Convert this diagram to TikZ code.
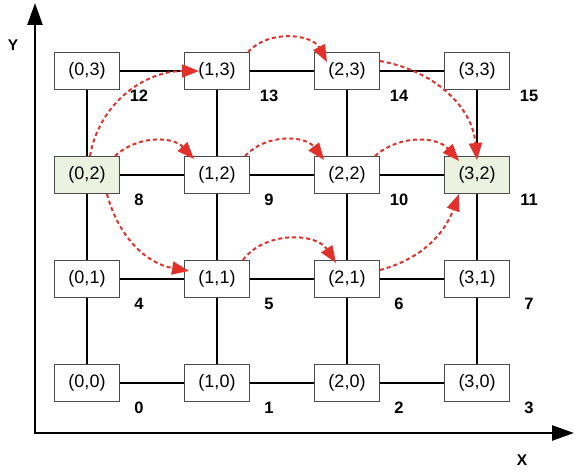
\documentclass[tikz,border=0pt]{standalone}
\usepackage{fontspec}
\setmainfont{Liberation Sans}
\usetikzlibrary{arrows.meta,positioning,calc}
\definecolor{hopred}{HTML}{E2312A}
\definecolor{srcgreen}{HTML}{ECF2E0}
\begin{document}
\begin{tikzpicture}[x=1pt,y=1pt,
    cell/.style={draw=black!70,line width=1pt,fill=white,minimum width=65pt,
      minimum height=37pt,inner sep=0pt,font=\fontsize{18}{20}\selectfont},
    cell 02/.style={fill=srcgreen},
    cell 32/.style={fill=srcgreen},
    rank/.style={font=\fontsize{16.5}{18}\selectfont\bfseries},
    axislabel/.style={font=\fontsize{15.5}{17}\selectfont\bfseries},
    link/.style={line width=1.6pt},
    hop/.style={hopred,line width=2pt,dash pattern=on 4pt off 3pt,
      -{Triangle[length=17pt,width=13pt]}}]
  \useasboundingbox (-35,-39) rectangle (540,433);
  % axes
  \draw[line width=2.5pt,line join=miter,
    {Triangle[length=22pt,width=15pt]}-{Triangle[length=22pt,width=15pt]}]
    (0,430) -- (0,0) -- (539,0);
  \node[axislabel] (ylab) at (-22,388) {Y};
  \node[axislabel] (xlab) at (487,-27) {X};
  % mesh of nodes
  \foreach \i in {0,...,3}
    \foreach \j in {0,...,3}{
      \pgfmathtruncatemacro\k{4*\j+\i}
      \node[cell,cell \i\j/.try] (n\i\j) at (52+130*\i,50+104*\j) {(\i,\j)};
      \node[rank] (r\i\j) at ($(n\i\j)+(52,-25)$) {\k};
    }
  \foreach \i in {0,1,2}{
    \pgfmathtruncatemacro\ii{\i+1}
    \foreach \j in {0,...,3}{
      \draw[link] (n\i\j) -- (n\ii\j);
      \draw[link] (n\j\i) -- (n\j\ii);
    }
  }
  % routes
  \draw[hop] ([xshift=3]n02.north) to[out=80,in=180] ([xshift=15]n13.west);
  \draw[hop] ([xshift=-5]n02.north east) to[bend left=45] ([shift={(10,-3)}]n12.north west);
  \draw[hop] ([xshift=20]n02.south) to[out=-75,in=170] ([shift={(5,8)}]n11.west);
  \draw[hop] ([xshift=-2]n13.north east) to[bend left=55] ([shift={(13,-10)}]n23.north west);
  \draw[hop] ([xshift=-5]n12.north east) to[bend left=50] ([shift={(10,-4)}]n22.north west);
  \draw[hop] ([xshift=-7]n11.north east) to[bend left=55] ([shift={(22,-3)}]n21.north west);
  \draw[hop] ([yshift=10]n23.east) to[out=-10,in=95] ([yshift=-4]n32.north);
  \draw[hop] ([xshift=-5]n22.north east) to[bend left=45] ([shift={(15,-5)}]n32.north west);
  \draw[hop] ([yshift=9]n21.east) to[out=15,in=-110] ([xshift=15]n32.south west);
\end{tikzpicture}
\end{document}
